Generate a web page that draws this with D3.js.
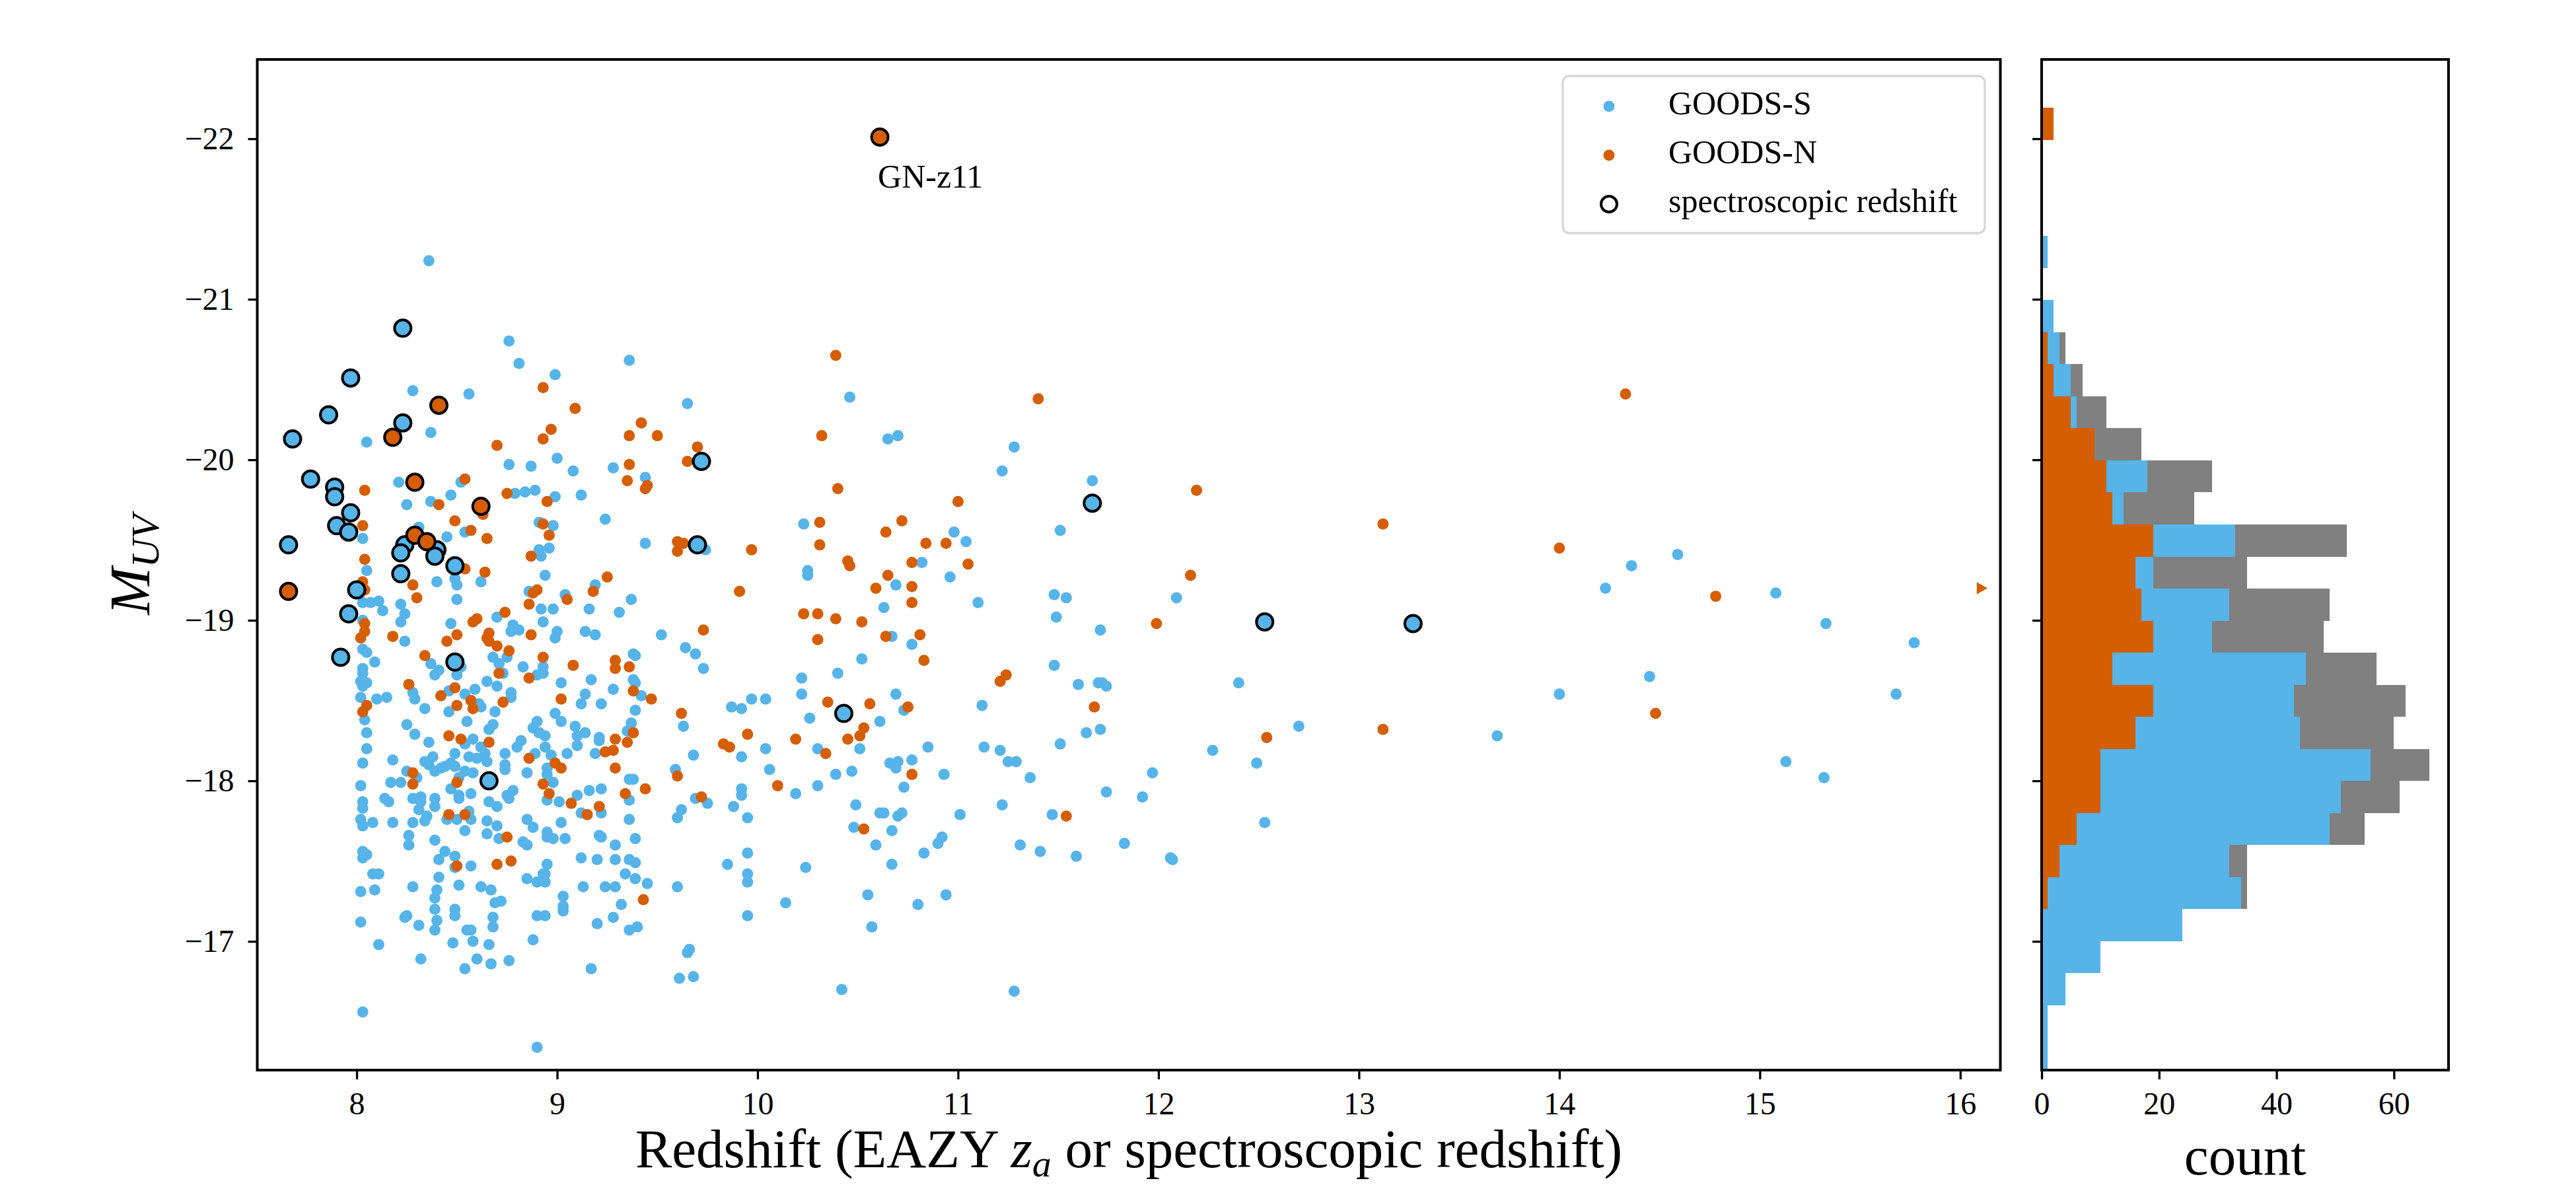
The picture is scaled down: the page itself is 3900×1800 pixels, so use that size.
<!DOCTYPE html>
<html><head><meta charset="utf-8">
<script src="https://cdn.jsdelivr.net/npm/d3@7"></script>
<style>body{margin:0;background:#fff}</style>
</head><body>
<svg id="chart" width="3900" height="1800" xmlns="http://www.w3.org/2000/svg"></svg>
<script>
// ---------------- DATA ----------------
// [redshift, M_UV]
const goodsS = [
[8.36,-21.24],[8.76,-20.74],[8.81,-20.60],[8.99,-20.53],[9.36,-20.62],[8.28,-20.43],[8.56,-20.41],[9.65,-20.35],[8.05,-20.11],[8.37,-20.17],
[8.76,-19.97],[8.87,-19.96],[9.00,-20.01],[9.08,-19.93],[9.28,-19.95],[8.21,-19.86],[8.52,-19.86],[9.44,-19.89],[8.25,-19.72],[8.37,-19.74],
[8.47,-19.78],[8.79,-19.79],[8.84,-19.80],[8.89,-19.81],[8.99,-19.77],[9.12,-19.78],[9.24,-19.63],[8.03,-19.51],[8.54,-19.55],[8.31,-19.58],
[8.45,-19.52],[8.91,-19.61],[8.98,-19.59],[8.91,-19.44],[8.96,-19.45],[8.92,-19.40],[9.44,-19.48],[9.74,-19.44],[10.23,-19.60],[8.05,-19.31],
[8.40,-19.24],[8.49,-19.26],[8.50,-19.22],[8.62,-19.24],[8.50,-19.13],[8.94,-19.28],[9.19,-19.22],[8.86,-19.18],[9.04,-19.16],[9.37,-19.13],
[10.25,-19.28],[10.25,-19.31],[8.03,-19.11],[8.07,-19.11],[8.11,-19.12],[8.13,-19.06],[8.22,-19.10],[8.24,-19.04],[8.70,-19.02],[8.92,-19.07],
[8.98,-19.07],[9.16,-19.07],[9.31,-19.05],
[8.03,-19.00],[8.03,-18.82],[8.05,-18.80],[8.09,-18.74],[8.03,-18.70],[8.03,-18.67],[8.02,-18.62],[8.05,-18.61],[8.03,-18.59],[8.02,-18.52],
[8.10,-18.51],[8.15,-18.52],[8.04,-18.38],[8.05,-18.30],[8.05,-18.20],[8.03,-18.11],[8.02,-17.97],[8.03,-17.87],[8.03,-17.83],[8.02,-17.76],
[8.03,-17.72],[8.08,-17.74],[8.03,-17.56],[8.05,-17.54],[8.03,-17.52],[8.08,-17.42],[8.11,-17.42],[8.09,-17.32],[8.02,-17.31],[8.02,-17.12],
[8.11,-16.98],[8.03,-16.56],
[8.18,-18.13],[8.18,-17.74],[8.14,-17.89],[8.16,-17.87],[8.17,-17.99],[8.22,-17.99],[8.25,-18.06],[8.30,-18.02],[8.28,-17.89],[8.31,-17.82],
[8.32,-17.90],[8.32,-17.87],[8.28,-17.74],[8.26,-17.66],[8.26,-17.60],[8.28,-17.34],[8.24,-17.15],[8.25,-17.16],[8.31,-17.10],[8.32,-16.89],
[8.25,-18.35],[8.29,-18.29],[8.36,-18.24],[8.34,-18.45],[8.29,-18.51],[8.28,-18.55],
[8.22,-18.99],[8.24,-18.87],[8.37,-18.73],[8.41,-18.69],[8.39,-18.66],
[8.46,-18.56],[8.46,-18.43],[8.54,-18.54],[8.59,-18.57],[8.61,-18.48],[8.62,-18.46],[8.55,-18.37],
[8.34,-18.12],[8.38,-18.15],[8.36,-18.10],[8.39,-18.06],[8.42,-18.08],[8.44,-18.09],[8.49,-18.17],[8.47,-18.11],[8.49,-18.09],[8.51,-18.02],
[8.47,-17.95],[8.51,-17.91],[8.51,-17.89],[8.57,-17.92],[8.54,-18.06],[8.58,-18.05],
[8.54,-18.23],[8.58,-18.26],[8.62,-18.21],[8.56,-18.15],[8.60,-18.14],[8.65,-18.12],[8.64,-18.17],
[8.66,-18.32],[8.68,-18.35],[8.69,-18.43],[8.77,-18.52],[8.77,-18.55],[8.65,-18.62],[8.70,-18.59],[8.68,-18.77],[8.71,-18.73],[8.73,-18.67],[8.75,-18.77],
[8.47,-18.98],[8.52,-18.71],[8.50,-18.66],
[8.77,-18.93],[8.78,-18.97],[8.81,-18.94],[8.83,-18.71],[8.90,-18.66],[8.93,-18.67],[8.93,-18.71],[8.93,-18.99],
[9.00,-18.93],[8.99,-18.89],[9.02,-18.61],[9.14,-18.93],[9.19,-18.91],[9.52,-18.91],[9.64,-18.83],[9.69,-18.79],[9.73,-18.70],[9.38,-18.79],
[9.39,-18.78],[9.38,-18.63],[9.39,-18.61],[9.42,-18.53],
[9.17,-18.63],[9.14,-18.54],[9.12,-18.48],[9.22,-18.48],[9.28,-18.57],[9.39,-18.44],
[8.99,-18.42],[9.02,-18.37],[9.09,-18.34],[9.14,-18.30],[9.10,-18.28],[9.10,-18.22],[9.21,-18.27],[9.21,-18.25],[9.35,-18.31],[9.37,-18.36],
[9.19,-18.17],[9.05,-18.17],[8.94,-18.28],[8.94,-18.21],[8.90,-18.37],[8.88,-18.33],[8.91,-18.30],[8.80,-18.21],[8.82,-18.25],[8.89,-18.17],[8.97,-18.16],
[8.74,-18.17],[8.74,-18.10],[8.74,-18.07],[8.85,-18.05],[8.95,-18.08],[8.95,-18.04],[8.98,-17.99],
[8.95,-17.88],[9.01,-17.87],[9.10,-17.91],[9.16,-17.94],[9.22,-17.95],[9.22,-17.80],[9.12,-17.80],
[9.36,-18.01],[9.38,-18.01],[9.36,-17.88],[9.36,-17.76],[9.02,-17.74],[8.85,-17.76],[8.88,-17.71],[8.95,-17.68],[8.95,-17.65],[8.98,-17.64],
[9.04,-17.64],[8.83,-17.62],[8.85,-17.60],
[8.78,-17.94],[8.75,-17.91],[8.76,-17.89],[8.66,-17.87],[8.70,-17.84],[8.65,-17.75],[8.70,-17.72],[8.65,-17.67],[8.71,-17.64],
[8.57,-17.76],[8.54,-17.69],[8.50,-17.76],[8.45,-17.76],[8.56,-17.81],
[8.34,-17.75],[8.35,-17.78],[8.39,-17.89],[8.39,-17.84],[8.39,-17.63],[8.44,-17.56],[8.41,-17.51],[8.49,-17.53],[8.49,-17.46],[8.57,-17.47],
[8.41,-17.40],[8.40,-17.32],[8.51,-17.35],[8.39,-17.27],[8.39,-17.20],[8.40,-17.13],[8.39,-17.07],[8.49,-17.20],[8.49,-17.16],
[8.62,-17.34],[8.67,-17.32],[8.69,-17.24],[8.72,-17.25],[8.68,-17.15],[8.68,-17.09],
[8.48,-16.99],[8.55,-17.07],[8.57,-17.07],[8.58,-17.00],[8.66,-16.98],[8.60,-16.89],[8.54,-16.83],[8.67,-16.86],[8.76,-16.88],
[8.88,-17.01],[8.90,-17.16],[8.94,-17.16],[8.85,-17.39],[8.90,-17.37],[8.94,-17.37],[8.95,-17.48],[8.93,-17.42],[8.94,-17.42],
[9.03,-17.28],[9.03,-17.22],[9.03,-17.19],[9.17,-16.83],[9.13,-17.34],[9.24,-17.34],[9.29,-17.34],
[9.20,-17.11],[9.28,-17.15],[9.32,-17.23],[9.36,-17.07],[9.40,-17.09],[9.45,-17.36],[9.39,-17.39],[9.34,-17.42],
[9.12,-17.52],[9.20,-17.51],[9.29,-17.51],[9.36,-17.51],[9.39,-17.49],[9.29,-17.60],[9.39,-17.64],[9.22,-17.65],[9.21,-17.66],
[8.90,-16.34],[9.60,-17.34],[9.61,-16.77],[9.68,-16.78],[9.65,-16.93],[9.66,-16.95],
[10.14,-17.24],[9.95,-17.16],[9.95,-17.37],[9.95,-17.42],[9.95,-17.55],[9.85,-17.48],[10.24,-17.46],[10.42,-16.70],
[9.60,-17.77],[9.62,-17.82],[9.69,-17.89],[9.75,-17.86],[9.59,-18.07],[9.88,-17.84],[9.95,-17.77],[9.92,-17.95],[9.92,-17.91],[10.19,-17.92],
[10.30,-17.97],[10.06,-18.07],[10.04,-18.20],[9.92,-18.15],[9.68,-18.16],
[9.63,-18.34],[9.87,-18.46],[9.92,-18.45],[9.97,-18.51],[10.04,-18.51],[10.26,-18.39],[10.30,-18.20],[10.39,-18.04],[10.22,-18.64],[10.22,-18.54],[10.40,-18.67],
[10.46,-20.39],[10.65,-20.13],[10.70,-20.15],[11.28,-20.08],[11.22,-19.93],[11.67,-19.87],[10.98,-19.55],[11.04,-19.49],[11.51,-19.56],[10.82,-19.36],
[10.96,-19.27],[10.69,-19.22],[11.48,-19.16],[11.54,-19.14],[12.09,-19.14],[10.63,-19.08],[11.10,-19.11],[11.49,-19.02],
[11.71,-18.94],[10.67,-18.90],[10.77,-18.85],[10.52,-18.76],[11.48,-18.72],[11.60,-18.60],[11.70,-18.61],[11.72,-18.61],[11.74,-18.59],[12.40,-18.61],
[10.69,-18.54],[10.73,-18.44],[11.12,-18.47],[10.61,-18.37],[10.51,-18.20],[10.85,-18.21],[11.13,-18.21],[11.21,-18.19],[11.51,-18.23],[11.64,-18.30],
[11.71,-18.32],[12.70,-18.34],[12.27,-18.19],[12.49,-18.11],[10.66,-18.11],[10.70,-18.12],[10.69,-18.08],[10.77,-18.13],[11.25,-18.12],[11.29,-18.12],
[10.47,-18.06],[10.93,-18.04],[11.36,-18.02],[11.97,-18.05],[10.73,-17.96],[11.74,-17.93],[11.92,-17.90],[10.49,-17.85],[10.61,-17.80],[10.63,-17.80],
[10.70,-17.78],[10.72,-17.80],[11.01,-17.79],[11.22,-17.85],[11.47,-17.79],[12.53,-17.74],[10.48,-17.71],[10.67,-17.69],[10.92,-17.65],[10.90,-17.61],
[10.59,-17.60],[10.83,-17.55],[11.31,-17.60],[11.41,-17.56],[11.59,-17.53],[11.83,-17.61],[12.06,-17.52],[12.07,-17.51],[10.67,-17.48],[10.55,-17.29],
[10.94,-17.29],[10.80,-17.23],[10.57,-17.09],[11.28,-16.69],
[14.36,-19.34],[14.59,-19.41],[14.23,-19.20],[15.08,-19.17],[15.33,-18.98],[15.77,-18.86],[14.45,-18.65],[14.00,-18.54],[15.68,-18.54],[13.69,-18.28],
[15.13,-18.12],[15.32,-18.02]
];
const goodsN = [
[10.39,-20.65],[8.93,-20.45],[9.09,-20.32],[9.42,-20.23],[8.97,-20.19],[8.93,-20.13],[9.36,-20.15],[9.50,-20.15],[10.32,-20.15],[8.70,-20.09],
[9.70,-20.08],[9.65,-19.99],[9.36,-19.97],[8.04,-19.81],[8.54,-19.88],[9.35,-19.87],[9.44,-19.82],[9.45,-19.84],[10.40,-19.82],[8.41,-19.72],
[8.63,-19.66],[8.75,-19.79],[8.95,-19.74],[8.03,-19.59],[8.49,-19.62],[8.57,-19.56],[8.65,-19.51],[8.93,-19.60],[8.96,-19.53],[8.87,-19.40],
[9.60,-19.49],[9.63,-19.48],[9.60,-19.43],[9.97,-19.44],[10.31,-19.61],[10.31,-19.47],[8.04,-19.38],[8.03,-19.24],[8.04,-19.19],[8.54,-19.32],
[8.28,-19.22],[8.30,-19.14],[8.64,-19.30],[9.25,-19.27],[9.18,-19.18],[8.88,-19.17],[8.90,-19.19],[8.86,-19.10],[9.05,-19.13],[9.91,-19.18],
[8.74,-19.05],[10.23,-19.04],[10.30,-19.04],[10.39,-19.01],
[8.04,-18.98],[8.04,-18.93],[8.02,-18.89],[8.05,-18.47],[8.03,-18.43],[8.28,-18.05],[8.28,-17.98],[8.26,-18.60],[8.18,-18.90],[8.34,-18.78],
[8.42,-18.53],[8.49,-18.58],[8.50,-18.47],[8.57,-18.50],[8.58,-18.45],[8.50,-17.99],[8.46,-18.28],[8.52,-18.26],[8.66,-18.24],[8.73,-18.49],
[8.71,-18.67],[8.76,-18.81],[8.70,-18.84],[8.66,-18.92],[8.65,-18.89],[8.66,-18.87],[8.50,-18.91],[8.45,-18.87],[8.58,-18.99],[8.60,-19.01],
[8.87,-18.91],[8.86,-18.64],[8.93,-18.77],[9.08,-18.72],[9.73,-18.94],[9.29,-18.75],[9.29,-18.70],[9.36,-18.71],[9.38,-18.56],[9.47,-18.51],
[9.02,-18.51],[9.29,-18.26],[9.35,-18.24],[9.38,-18.30],[9.24,-18.18],[9.28,-18.19],[8.86,-18.14],[8.99,-18.11],[9.02,-18.08],[8.93,-17.98],
[8.96,-17.92],[9.07,-17.86],[9.21,-17.84],[9.15,-17.79],[9.29,-18.08],[9.34,-17.92],[9.44,-17.95],[8.75,-17.65],[8.46,-17.79],[8.54,-17.79],
[8.50,-17.47],[8.70,-17.48],[8.77,-17.50],[9.43,-17.26],[9.72,-17.90],[9.60,-18.03],[10.10,-17.97],[9.83,-18.23],[9.86,-18.21],[9.95,-18.29],
[9.62,-18.42],[10.19,-18.26],[10.34,-18.17],[10.35,-18.49],[10.30,-18.88],
[11.40,-20.38],[12.19,-19.81],[11.00,-19.74],[10.72,-19.62],[10.64,-19.55],[10.84,-19.48],[10.94,-19.48],[13.12,-19.60],[10.45,-19.37],[10.46,-19.34],
[10.77,-19.36],[11.05,-19.35],[10.65,-19.28],[10.59,-19.20],[10.77,-19.21],[12.16,-19.28],[10.77,-19.11],[10.52,-18.99],[11.99,-18.98],
[10.64,-18.90],[10.81,-18.91],[10.83,-18.75],[11.24,-18.66],[11.21,-18.62],[10.56,-18.48],[10.75,-18.46],[11.68,-18.46],[10.53,-18.33],[10.51,-18.28],
[10.45,-18.26],[13.12,-18.32],[12.54,-18.27],[10.77,-18.04],[11.54,-17.78],[10.53,-17.70],
[14.33,-20.41],[14.00,-19.45],[14.78,-19.15],[14.48,-18.42]
];
// galaxies with spectroscopic redshift (outlined)
const specS = [
[8.23,-20.82],[7.97,-20.51],[7.86,-20.28],[8.23,-20.23],[7.68,-20.13],[9.72,-19.99],[7.77,-19.88],[7.89,-19.83],[7.89,-19.77],[7.97,-19.67],
[7.90,-19.59],[7.96,-19.55],[8.24,-19.47],[8.22,-19.42],[8.40,-19.44],[8.39,-19.40],[8.49,-19.34],[7.66,-19.47],[9.70,-19.47],[8.00,-19.19],
[8.22,-19.29],[7.96,-19.04],[7.92,-18.77],[8.49,-18.74],[8.66,-18.00],[10.43,-18.42],[11.67,-19.73],[12.53,-18.99],[13.27,-18.98]
];
const specN = [
[8.41,-20.34],[8.18,-20.14],[8.29,-19.86],[8.62,-19.71],[8.29,-19.53],[8.35,-19.49],[7.66,-19.18],[10.61,-22.01]
];
const annotations = [{name:"GN-z11", z:10.61, muv:-22.01}];
// GOODS-N object beyond the x range, drawn as an edge arrow
const offscaleN = [[16.10,-19.20]];

// histogram of M_UV: 30 bins from -22.193 to -16.202, listed bright -> faint
const histRange = [-22.193, -16.202];
const histS     = [0,0,0,0,1,0,2,3,5,6,8,18,14,33,19,32,29,45,43,44,56,51,49,32,34,24,10,4,1,1];
const histN     = [2,0,0,0,0,0,0,1,2,5,9,11,12,19,16,17,19,12,19,16,10,10,6,3,1,0,0,0,0,0];
const histAll   = [2,0,0,0,1,0,2,4,7,11,17,29,26,52,35,49,48,57,62,60,66,61,55,35,35,24,10,4,1,1];

const xTicks = [8,9,10,11,12,13,14,15,16];
const yTicks = [-22,-21,-20,-19,-18,-17];
const countTicks = [0,20,40,60];
const legendItems = [
  {label:"GOODS-S", type:"S"},
  {label:"GOODS-N", type:"N"},
  {label:"spectroscopic redshift", type:"spec"}
];

// ---------------- STYLE / LAYOUT ----------------
const BLUE = "#56B4E9", ORANGE = "#D55E00", GRAY = "#808080";
const FONT = "'Liberation Serif', 'DejaVu Serif', serif";
const M = {left:389.5, right:3028.5, top:90, bottom:1620};
const Hm = {left:3091, right:3707, top:90, bottom:1620};

const svg = d3.select("#chart");
svg.append("rect").attr("width",3900).attr("height",1800).attr("fill","#fff");

const x = d3.scaleLinear().domain([7.504, 16.2]).range([M.left, M.right]);
const y = d3.scaleLinear().domain([-22.494, -16.198]).range([M.top, M.bottom]);
const hx = d3.scaleLinear().domain([0, 69.3]).range([Hm.left, Hm.right]);

function styleAxis(g){
  g.select(".domain").remove();
  g.selectAll(".tick line").attr("stroke","#000").attr("stroke-width",3.3);
  g.selectAll(".tick text").attr("fill","#000").style("font-family",FONT).style("font-size","48px");
}

// ---------- main scatter ----------
const clipId = "mainclip";
svg.append("clipPath").attr("id",clipId).append("rect")
  .attr("x",M.left).attr("y",M.top).attr("width",M.right-M.left).attr("height",M.bottom-M.top);
const plot = svg.append("g").attr("clip-path",`url(#${clipId})`);

plot.append("g").selectAll("circle").data(goodsS).join("circle")
  .attr("cx",d=>x(d[0])).attr("cy",d=>y(d[1])).attr("r",8.5).attr("fill",BLUE);
plot.append("g").selectAll("circle").data(goodsN).join("circle")
  .attr("cx",d=>x(d[0])).attr("cy",d=>y(d[1])).attr("r",8.5).attr("fill",ORANGE);
plot.append("g").selectAll("circle").data(specS).join("circle")
  .attr("cx",d=>x(d[0])).attr("cy",d=>y(d[1])).attr("r",12.5).attr("fill",BLUE)
  .attr("stroke","#000").attr("stroke-width",4);
plot.append("g").selectAll("circle").data(specN).join("circle")
  .attr("cx",d=>x(d[0])).attr("cy",d=>y(d[1])).attr("r",12.5).attr("fill",ORANGE)
  .attr("stroke","#000").attr("stroke-width",4);
plot.append("g").selectAll("path").data(offscaleN).join("path")
  .attr("d", d3.symbol(d3.symbolTriangle, 150))
  .attr("transform", d=>`translate(${x(d[0])},${y(d[1])}) rotate(90)`)
  .attr("fill",ORANGE);

svg.append("g").selectAll("text").data(annotations).join("text")
  .attr("x",d=>x(d.z)-3).attr("y",d=>y(d.muv)+76)
  .style("font-family",FONT).style("font-size","50px").text(d=>d.name);

// axes main
const gx = svg.append("g").attr("transform",`translate(0,${M.bottom})`)
  .call(d3.axisBottom(x).tickValues(xTicks).tickSize(14).tickPadding(19).tickFormat(d3.format("d")));
styleAxis(gx);
const gy = svg.append("g").attr("transform",`translate(${M.left},0)`)
  .call(d3.axisLeft(y).tickValues(yTicks).tickSize(14).tickPadding(21).tickFormat(d3.format("d")));
styleAxis(gy);

svg.append("rect").attr("x",M.left).attr("y",M.top).attr("width",M.right-M.left).attr("height",M.bottom-M.top)
  .attr("fill","none").attr("stroke","#000").attr("stroke-width",4);

// x label
const xl = svg.append("text").attr("x",(M.left+M.right)/2).attr("y",1767).attr("text-anchor","middle")
  .style("font-family",FONT).style("font-size","83px");
xl.append("tspan").text("Redshift (EAZY ");
xl.append("tspan").style("font-style","italic").text("z");
xl.append("tspan").style("font-style","italic").style("font-size","58px").attr("dy",14).text("a");
xl.append("tspan").attr("dy",-14).text(" or spectroscopic redshift)");

// y label
const yl = svg.append("text").attr("transform",`translate(226,${(M.top+M.bottom)/2}) rotate(-90)`)
  .attr("text-anchor","middle").style("font-family",FONT).style("font-size","86px");
yl.append("tspan").style("font-style","italic").text("M");
yl.append("tspan").style("font-style","italic").style("font-size","60px").attr("dy",14).text("UV");

// legend
const lg = svg.append("g");
lg.append("rect").attr("x",2366).attr("y",115).attr("width",639).attr("height",238).attr("rx",10)
  .attr("fill","#fff").attr("fill-opacity",0.8).attr("stroke","#d6d6d6").attr("stroke-width",3.3);
legendItems.forEach((it,i)=>{
  const cy = 161 + i*74;
  if(it.type==="spec"){
    lg.append("circle").attr("cx",2436).attr("cy",cy).attr("r",12).attr("fill","none").attr("stroke","#000").attr("stroke-width",4);
  } else {
    lg.append("circle").attr("cx",2436).attr("cy",cy).attr("r",8.5).attr("fill",it.type==="S"?BLUE:ORANGE);
  }
  lg.append("text").attr("x",2526).attr("y",cy+12).style("font-family",FONT).style("font-size","50px").text(it.label);
});

// ---------- histogram ----------
const binW = (histRange[1]-histRange[0])/histS.length;
const bins = histS.map((s,i)=>({lo:histRange[0]+i*binW, hi:histRange[0]+(i+1)*binW, s, n:histN[i], all:histAll[i]}));
const hg = svg.append("g");
function bars(key,color){
  hg.append("g").selectAll("rect").data(bins.filter(b=>b[key]>0)).join("rect")
    .attr("x",hx(0)).attr("y",b=>y(b.lo)).attr("width",b=>hx(b[key])-hx(0)).attr("height",b=>y(b.hi)-y(b.lo))
    .attr("fill",color).attr("shape-rendering","crispEdges");
}
bars("all",GRAY); bars("s",BLUE); bars("n",ORANGE);

const hgx = svg.append("g").attr("transform",`translate(0,${Hm.bottom})`)
  .call(d3.axisBottom(hx).tickValues(countTicks).tickSize(14).tickPadding(19).tickFormat(d3.format("d")));
styleAxis(hgx);
const hgy = svg.append("g").attr("transform",`translate(${Hm.left},0)`)
  .call(d3.axisLeft(y).tickValues(yTicks).tickSize(14).tickFormat(""));
styleAxis(hgy);
svg.append("rect").attr("x",Hm.left).attr("y",Hm.top).attr("width",Hm.right-Hm.left).attr("height",Hm.bottom-Hm.top)
  .attr("fill","none").attr("stroke","#000").attr("stroke-width",4);
svg.append("text").attr("x",(Hm.left+Hm.right)/2).attr("y",1778).attr("text-anchor","middle")
  .style("font-family",FONT).style("font-size","83px").text("count");
</script>
</body></html>
